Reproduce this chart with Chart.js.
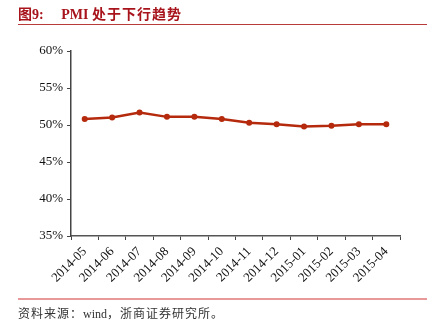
<!DOCTYPE html>
<html><head><meta charset="utf-8">
<script src="https://cdn.jsdelivr.net/npm/chart.js@4/dist/chart.umd.min.js"></script>
<style>
html,body{margin:0;padding:0;background:#fff;}
#wrap{position:relative;width:437px;height:333px;overflow:hidden;}
#c{position:absolute;left:0;top:0;}
.title{position:absolute;left:18px;top:3px;font-family:"Liberation Serif","Noto Sans CJK SC",serif;font-weight:bold;font-size:14px;color:#a8141c;white-space:pre;}
.title .cn{letter-spacing:1px;}
.tline{position:absolute;left:18px;top:24px;width:409px;height:1px;background:#b83a3a;}
.fline{position:absolute;left:18px;top:298px;width:409px;height:2px;background:#e89898;}
.src{position:absolute;left:18px;top:304px;font-family:"Liberation Serif","Noto Sans CJK SC",serif;font-size:12px;color:#333;white-space:pre;}
.src .cn{letter-spacing:1px;}
</style></head>
<body>
<div id="wrap">
<canvas id="c" width="437" height="333"></canvas>
<div class="title">图9:     PMI <span class="cn">处于下行趋势</span></div>
<div class="tline"></div>
<div class="fline"></div>
<div class="src"><span class="cn">资料来源：</span>wind<span class="cn">，浙商证券研究所。</span></div>
</div>
<script>
const categories = ["2014-05","2014-06","2014-07","2014-08","2014-09","2014-10","2014-11","2014-12","2015-01","2015-02","2015-03","2015-04"];
const pmiValues = [50.8, 51.0, 51.7, 51.1, 51.1, 50.8, 50.3, 50.1, 49.8, 49.9, 50.1, 50.1];
const yTicks = [35, 40, 45, 50, 55, 60];

const lineColor = '#b5290c';
new Chart(document.getElementById('c'), {
  type: 'line',
  data: {
    labels: categories,
    datasets: [{
      data: pmiValues,
      borderColor: lineColor,
      backgroundColor: lineColor,
      borderWidth: 2.5,
      pointRadius: 3,
      pointBorderWidth: 0,
      pointBackgroundColor: lineColor,
      tension: 0
    }]
  },
  options: {
    responsive: false,
    animation: false,
    layout: { padding: { top: 51, right: 37, left: 0, bottom: 0 } },
    plugins: { legend: { display: false }, tooltip: { enabled: false } },
    scales: {
      x: {
        offset: true,
        grid: { offset: true, drawOnChartArea: false, color: '#444', tickLength: 4, tickColor: '#444' },
        border: { color: '#555', width: 1.5 },
        ticks: { color: '#111', minRotation: 45, maxRotation: 45, autoSkip: false, padding: 4,
          font: { family: '"Liberation Serif", serif', size: 13 } },
        afterFit: s => { s.height = 97; }
      },
      y: {
        min: 35, max: 60,
        afterBuildTicks: s => { s.ticks = yTicks.map(v => ({ value: v })); },
        grid: { drawOnChartArea: false, tickLength: 4, tickColor: '#444' },
        border: { color: '#444', width: 1.5 },
        ticks: { color: '#111', padding: 4, callback: v => v + '%',
          font: { family: '"Liberation Serif", serif', size: 13 } },
        afterFit: s => { s.width = 71; }
      }
    }
  }
});
</script>
</body></html>
